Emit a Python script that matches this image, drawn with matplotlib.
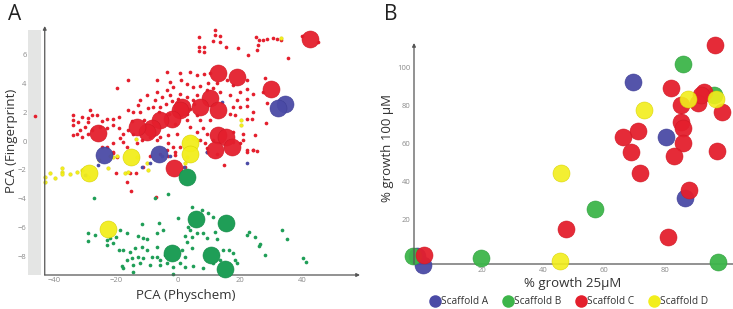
import matplotlib
matplotlib.use("Agg")
import matplotlib.pyplot as plt

plt.rcParams['font.family'] = ['Open Sans', 'DejaVu Sans']

# ---------------- Panel A data (PCA) ----------------
# large markers (tested compounds)
a_big_red_x = [42.6, 13.0, 19.1, 30.0, 10.3, 7.1, 13.0, 1.2, 0.6, -2.0, -5.8, -8.5, -10.1, -13.3,
               -25.7, 13.0, 15.5, 17.3, 11.9, -1.2]
a_big_red_y = [7.08, 4.70, 4.47, 3.61, 3.03, 2.34, 2.15, 2.34, 2.15, 1.57, 1.46, 0.88, 0.65, 1.00,
               0.58, 0.42, 0.30, -0.39, -0.63, -1.90]
a_big_blue_x = [34.5, 32.4, -23.9, -6.1]
a_big_blue_y = [2.55, 2.27, -0.97, -0.86]
a_big_yellow_x = [3.9, 3.9, -15.2, -28.7, -22.5]
a_big_yellow_y = [-0.16, -0.86, -1.09, -2.18, -6.13]
a_big_green_x = [3.0, 5.8, 15.5, -1.8, 10.5, 15.3]
a_big_green_y = [-2.48, -5.44, -5.72, -7.76, -7.92, -8.91]

# small markers (library compounds)
a_red_x = [11.9, 11.9, 13.5, 13.5, 6.9, 6.9, 8.4, 6.9, 8.4, 11.4, 15.4, 19.5, 22.7, 25.4, 25.2, 26.2,
           27.5, 28.6, 30.5, 31.8, 33.3, 25.9, 35.6, 39.9, 45.3,
           -16.2, -19.8, -6.9, -3.7, 0.6, 3.7, 6.0, 8.4, 10.3, 0.9, -2.6, -1.5, -3.7, 2.8, 4.9, 7.1, 9.8,
           12.5, 15.7, 17.8, 22.2, 20.0, 22.4, 28.1, 27.5, -6.9, -10.1, -12.3, -7.4, -5.3, -2.6, 0.6, 2.8,
           4.9, 9.2, 11.4, 13.5, 16.8, 18.9, 22.2, 24.3, 17.8, 20.0, 22.2, 24.3, 28.6, 16.8, 18.4, 22.2,
           23.8, 28.3, 24.8, 17.8, 21.1, -16.0, -14.4, -12.3, -9.6, -8.0, -5.8, -19.2, -20.9, -23.0,
           -24.6, -26.2, -28.4, -27.8, -34.0, -34.0, -33.8, -32.2, -31.1, -29.2, -28.9, -30.0, -31.6,
           -32.7, -33.8, -31.1, -29.2, -27.8, -25.2, -23.0, -20.9, -19.2, -17.6, -16.0, -14.4, -18.7,
           -20.9, -23.0, -24.6, -17.6, -16.6, -20.9, -11.7, -13.3, -3.1, -1.5, -3.7, -1.0, 0.6, 7.1, 8.7,
           9.2, 11.4, 20.0, 22.2, 24.3, 25.4, 21.1, 17.8, 8.2, 7.1, 6.0, 10.3, 2.8, 3.9, 6.0, 9.2, -5.8,
           -6.9, -9.0, -3.1, -0.4,
           -4.0, -2.0, 0.0, 2.0, 4.0, -6.0, -1.0, 1.0, 3.0, 5.0, -3.0, 6.0, -8.0, -11.0, -13.0, -15.0,
           -20.9, -19.8, -11.2, -9.0, -5.8, -3.1, -1.0, 2.3, -16.6, -15.3, -13.5, -15.5, -20.0, -7.2,
           14.9, 9.2, 12.5, 22.2, 24.3, -46.1]
a_red_y = [7.75, 7.36, 7.29, 6.90, 7.25, 6.55, 6.55, 6.25, 6.20, 6.99, 6.55, 6.44, 5.97, 6.32, 7.25, 7.01,
           7.01, 7.13, 7.20, 7.13, 7.01, 6.67, 5.81, 7.29, 6.90,
           4.28, 3.66, 4.24, 4.81, 4.75, 4.81, 4.58, 4.65, 4.75, 4.24, 4.12, 3.77, 3.54, 4.00, 3.73, 3.82,
           4.05, 4.05, 4.24, 3.89, 4.24, 3.43, 3.59, 4.42, 3.43, 3.43, 3.19, 2.85, 2.85, 3.08, 3.19, 3.31,
           3.08, 2.85, 3.54, 3.66, 3.43, 3.19, 2.85, 2.96, 3.31, 2.38, 2.38, 2.43, 2.04, 2.62, 1.92, 1.81,
           1.57, 1.57, 1.23, 0.42, 0.65, 0.53, 2.15, 2.04, 2.04, 2.27, 2.38, 2.38, 1.69, 1.57, 1.57, 1.41,
           1.81, 2.15, 1.81, 1.81, 1.46, 1.11, 1.34, 1.69, 1.64, 1.34, 1.00, 0.76, 0.53, 0.42, 0.30, 0.53,
           0.76, 1.00, 0.88, 1.11, 0.88, 0.53, 0.76, 0.53, 0.19, -0.16, -0.39, -0.39, -0.05, -0.39, -0.74,
           0.07, -0.16, -0.16, -0.39, -0.63, -0.74, -0.39, 0.07, -0.16, -0.51, 0.07, -0.16, -0.63, -0.63,
           -0.67, 0.07, -0.05, 0.88, 1.46, 1.81, 1.46, 1.46, 1.00, 0.65, 0.53, 0.30, 0.07, 0.30, 0.42, 0.53,
           2.6, 2.8, 2.9, 2.5, 2.2, 2.0, 1.2, 1.8, 1.9, 2.6, 1.9, 3.2, 1.3, 1.5, 2.5, 1.4,
           -0.81, -1.09, -1.78, -1.04, -0.90, -1.04, -0.97, -1.78, -2.82, -3.47, -2.20, -2.20, -2.20, -3.87,
           -1.67, -0.74, -0.86, -0.74, -0.63, 1.76]
a_yellow_x = [-42.9, -42.9, -41.3, -39.7, -37.5, -37.5, -37.5, -34.8, -32.7, -31.1, -29.8, -28.9, -25.4,
              -22.5, -21.9, -20.9, -19.6, -17.1, -16.0, -13.3, -10.1, -9.6, 2.8, 2.3, 20.2, 20.2, -13.5,
              4.9, 2.8, 6.0, 33.1]
a_yellow_y = [-2.48, -2.82, -2.20, -2.59, -1.90, -2.13, -2.29, -2.25, -2.13, -2.01, -2.36, -2.48, -1.32,
              -1.90, -1.04, -1.09, -1.04, -2.20, -2.13, -1.09, -1.50, -2.01, -1.09, -1.55, 1.46, 1.11, 0.12,
              0.25, 0.19, 0.07, 7.20]
a_blue_x = [-25.7, -2.6, 2.0, 22.2, -9.2, -11.7, 9.5, -30.0, 14.1, 9.2, -5.1]
a_blue_y = [-1.67, -1.04, -1.78, -1.50, -1.55, -1.78, -0.74, -2.36, 2.73, -0.74, -1.00]
a_green_x = [-27.0, -7.4, -3.1, 4.4, 7.6, 9.8, 11.4, 0.1, -6.3, -11.7, -12.8, -16.6, -18.7, -20.0, -21.9,
             -23.0, -22.8, -29.2, -28.9, -26.8, -20.9, -19.2, -17.6, -15.5, -13.9, -11.7, -10.1, -12.8,
             -14.9, -16.6, -18.2, -17.6, -14.4, -12.3, -11.2, -8.5, -6.9, -6.9, -5.8, -4.2, -3.7, -1.5, 0.6,
             2.3, 1.2, 2.8, 4.4, 3.9, 4.4, 6.0, 8.2, 9.2, 11.9, 12.5, 11.4, 13.5, 14.6, 16.6, 17.8, 18.4,
             19.1, 8.2, 4.9, 2.3, -1.5, -14.4, -5.8, -9.0, -6.9, -4.7, -11.2, -10.1, 22.2, 23.0, 24.8, 26.5,
             26.2, 28.1, 33.4, 35.1, 40.4, 41.3, 3.3, 2.3]
a_green_y = [-3.98, -3.98, -3.70, -4.56, -4.75, -4.98, -5.25, -5.37, -5.67, -5.76, -6.60, -6.41, -6.18,
             -6.69, -6.76, -6.88, -7.22, -6.37, -6.92, -6.53, -7.11, -7.57, -7.57, -7.69, -7.45, -7.34,
             -7.57, -8.03, -8.15, -8.26, -8.68, -8.84, -8.61, -8.50, -8.15, -8.03, -7.38, -8.03, -8.26,
             -7.92, -8.50, -8.73, -8.50, -8.03, -7.57, -6.99, -7.45, -6.18, -6.69, -6.37, -6.37, -6.76,
             -6.30, -6.83, -8.50, -8.26, -7.57, -7.57, -7.80, -8.26, -8.50, -8.84, -8.68, -8.77, -9.2, -9.1,
             -8.61, -8.61, -6.37, -6.18, -6.76, -6.83, -6.53, -6.30, -6.69, -7.18, -7.27, -7.94, -6.18,
             -6.83, -8.15, -8.38, -5.95, -6.60]
a_xticks = [-40, -20, 0, 20, 40]
a_yticks = [-8, -6, -4, -2, 0, 2, 4, 6]

# ---------------- Panel B data (growth) ----------------
b_A_x = [69.6, 80.5, 86.6, -1.4, 0.6]
b_A_y = [92.2, 63.3, 31.4, 0.7, -4.2]
b_B_x = [86.0, 96.4, 57.3, -2.5, 19.7, 97.7]
b_B_y = [102.0, 85.7, 25.4, 0.7, -0.7, -2.5]
b_C_x = [96.6, 82.2, 92.9, 90.9, 92.0, 85.5, 98.9, 85.5, 86.0, 71.2, 66.3, 86.0, 69.1, 97.3, 83.0,
         71.8, 87.9, 47.8, 81.1, 1.1]
b_C_y = [111.8, 89.2, 87.1, 81.3, 85.5, 80.4, 76.4, 71.3, 68.1, 66.7, 63.3, 60.1, 55.7, 56.2, 53.1,
         44.3, 35.4, 14.8, 10.7, 1.1]
b_D_x = [96.9, 87.6, 73.1, 46.1, 45.6]
b_D_y = [83.4, 83.4, 77.8, 44.6, -1.9]
b_xticks = [20, 40, 60, 80]
b_yticks = [20, 40, 60, 80, 100]
legend_labels = ['Scaffold A', 'Scaffold B', 'Scaffold C', 'Scaffold D']

# ---------------- styling ----------------
RED = '#e41f2d'
BLUE = '#4b4ba6'
YELLOW = '#f2ee1c'
GREEN_A = '#1f9e57'
GREEN_B = '#3db54a'
TICK_C = '#8a8a8a'
AX_C = '#555555'

fig = plt.figure(figsize=(7.33, 3.09), dpi=100)

# ---- Panel A ----
axA = fig.add_axes([28/733, 1-275/309, 332/733, 249/309])
axA.set_xlim(-48.4, 58.7)
axA.set_ylim(-9.3, 8.0)
for s in axA.spines.values():
    s.set_visible(False)
axA.axvspan(-48.4, -44.2, ymin=0, ymax=(7.75+9.3)/17.3, color='#e4e5e4', zorder=0, lw=0)

small = 7
axA.scatter(a_red_x, a_red_y, s=small, color=RED, lw=0, zorder=2, clip_on=False)
axA.scatter(a_green_x, a_green_y, s=small, color=GREEN_A, lw=0, zorder=2, clip_on=False)
axA.scatter(a_yellow_x, a_yellow_y, s=small, color=YELLOW, edgecolor='#c9c200', lw=0.2, zorder=3, clip_on=False)
axA.scatter(a_blue_x, a_blue_y, s=small, color=BLUE, lw=0, zorder=3, clip_on=False)
big = 150
axA.scatter(a_big_red_x, a_big_red_y, s=big, color=RED, edgecolor='#d01825', lw=0.4, alpha=0.95, zorder=4, clip_on=False)
axA.scatter(a_big_green_x, a_big_green_y, s=big, color=GREEN_A, edgecolor='#178a4a', lw=0.4, zorder=4, clip_on=False)
axA.scatter(a_big_blue_x, a_big_blue_y, s=big, color=BLUE, edgecolor='#3e3e95', lw=0.4, alpha=0.95, zorder=4, clip_on=False)
axA.scatter(a_big_yellow_x, a_big_yellow_y, s=big, color=YELLOW, edgecolor='#d8d200', lw=0.4, alpha=0.95, zorder=4, clip_on=False)

# axis lines with arrows
axA.annotate('', xy=(58.7, -9.3), xytext=(-43.0, -9.3),
             arrowprops=dict(arrowstyle='-|>', color=AX_C, lw=0.9, mutation_scale=5, shrinkA=0, shrinkB=0))
axA.annotate('', xy=(-43.0, 8.0), xytext=(-43.0, -9.3),
             arrowprops=dict(arrowstyle='-|>', color=AX_C, lw=0.9, mutation_scale=5, shrinkA=0, shrinkB=0))
axA.set_xticks(a_xticks)
axA.set_yticks(a_yticks)
axA.tick_params(length=0, labelsize=5.5, labelcolor=TICK_C, pad=1.5)
axA.tick_params(axis='y', pad=1)

fig.text(186/733, 1-296/309, 'PCA (Physchem)', ha='center', va='center', fontsize=9.5, color='#333333')
fig.text(12/733, 1-141/309, 'PCA (Fingerprint)', ha='center', va='center', rotation=90, fontsize=9.5, color='#333333')
fig.text(8/733, 1-14/309, 'A', ha='left', va='center', fontsize=15, color='#222222')

# ---- Panel B ----
axB = fig.add_axes([414/733, 1-264/309, 319/733, 221/309])
axB.set_xlim(-2.3, 102.5)
axB.set_ylim(-3.7, 113)
for s in axB.spines.values():
    s.set_visible(False)
bs = 150
axB.scatter(b_A_x, b_A_y, s=bs, color=BLUE, edgecolor='#3e3e95', lw=0.4, alpha=0.95, zorder=3, clip_on=False)
axB.scatter(b_B_x, b_B_y, s=bs, color=GREEN_B, edgecolor='#2fa03e', lw=0.4, alpha=0.95, zorder=3, clip_on=False)
axB.scatter(b_C_x, b_C_y, s=bs, color=RED, edgecolor='#d01825', lw=0.4, alpha=0.95, zorder=3, clip_on=False)
axB.scatter(b_D_x, b_D_y, s=bs, color=YELLOW, edgecolor='#d8d200', lw=0.4, alpha=0.9, zorder=3, clip_on=False)
axB.annotate('', xy=(102.5, -3.7), xytext=(-2.3, -3.7),
             arrowprops=dict(arrowstyle='-', color=AX_C, lw=0.9, shrinkA=0, shrinkB=0), zorder=1)
axB.annotate('', xy=(-2.3, 113), xytext=(-2.3, -3.7),
             arrowprops=dict(arrowstyle='-|>', color=AX_C, lw=0.9, mutation_scale=5, shrinkA=0, shrinkB=0))
axB.set_xticks(b_xticks)
axB.set_yticks(b_yticks)
axB.tick_params(length=0, labelsize=5.5, labelcolor=TICK_C, pad=2.5)

fig.text(573/733, 1-284/309, '% growth 25µM', ha='center', va='center', fontsize=9.5, color='#333333')
fig.text(388/733, 1-148/309, '% growth 100 µM', ha='center', va='center', rotation=90, fontsize=9.5, color='#333333')
fig.text(384/733, 1-14/309, 'B', ha='left', va='center', fontsize=15, color='#222222')

handles = [plt.Line2D([], [], ls='', marker='o', ms=9, color=c, markeredgewidth=0)
           for c in [BLUE, GREEN_B, RED, YELLOW]]
fig.legend(handles, legend_labels, loc='center', bbox_to_anchor=(569/733, 1-302/309), ncol=4,
           frameon=False, fontsize=7.3, handletextpad=0.15, columnspacing=1.4, handlelength=1.0,
           labelcolor='#333333', borderpad=0, borderaxespad=0)

fig.savefig('out.png', dpi=100)
